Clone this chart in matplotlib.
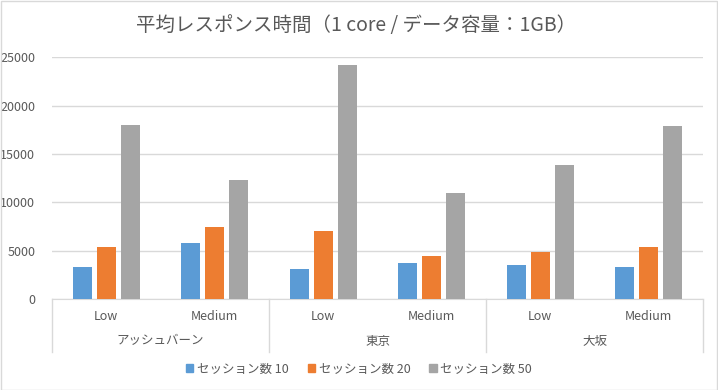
import matplotlib
matplotlib.use("Agg")
import matplotlib.pyplot as plt
from matplotlib.patches import Patch, Rectangle
import numpy as np

plt.rcParams['font.family'] = ['Noto Sans CJK JP', 'DejaVu Sans']

# data
regions = ["アッシュバーン", "東京", "大坂"]
loads = ["Low", "Medium"]
series_names = ["セッション数 10", "セッション数 20", "セッション数 50"]
sess10 = [3310, 5790, 3100, 3720, 3520, 3310]
sess20 = [5380, 7450, 7030, 4450, 4900, 5380]
sess50 = [18000, 12310, 24210, 10970, 13860, 17900]
colors = ["#5B9BD5", "#ED7D31", "#A5A5A5"]
txt = "#595959"
grid = "#D9D9D9"

W, H = 718, 390
fig = plt.figure(figsize=(W / 100, H / 100), dpi=100)
ax = fig.add_axes([52 / W, (H - 299) / H, (703 - 52) / W, (299 - 57.3) / H])

n = len(regions) * len(loads)
x = np.arange(n)
bw = 0.175
step = bw + 0.046
for i, vals in enumerate([sess10, sess20, sess50]):
    ax.bar(x + (i - 1) * step, vals, width=bw, color=colors[i], zorder=3)

ax.set_xlim(-0.5, n - 0.5)
ax.set_ylim(0, 25000)
ax.set_yticks(np.arange(0, 25001, 5000))
ax.yaxis.grid(True, color=grid, linewidth=1, zorder=0)
for s in ["left", "right", "top"]:
    ax.spines[s].set_visible(False)
ax.spines["bottom"].set_color(grid)
ax.tick_params(axis="y", length=0, labelsize=9, colors=txt, pad=12)
ax.set_xticks([])

# multi-level category axis
tr = ax.get_xaxis_transform()
def fy(py):
    # pixel row -> axes fraction (y) below the plot
    return (299 - py) / (299 - 57.3)

for k in range(n):
    ax.text(k, fy(316), loads[k % len(loads)], transform=tr, ha="center",
            va="center", fontsize=9, color=txt)
for g, name in enumerate(regions):
    ax.text(g * 2 + 0.5, fy(341), name, transform=tr, ha="center",
            va="center", fontsize=9, color=txt)
for b in [-0.5, 1.5, 3.5, 5.5]:
    ax.plot([b, b], [0, fy(352)], transform=tr, color=grid, lw=1,
            clip_on=False)

fig.text(356 / W, (H - 25) / H, "平均レスポンス時間（1 core / データ容量：1GB）",
         ha="center", va="center", fontsize=14, color=txt)

handles = [Patch(color=c) for c in colors]
fig.legend(handles, series_names, loc="center", ncol=3, frameon=False,
           bbox_to_anchor=(359 / W, (H - 369) / H), fontsize=9,
           handlelength=0.6, handleheight=0.6, handletextpad=0.3,
           columnspacing=1.5, labelcolor=txt)

fig.patches.append(Rectangle((0.5 / W, 0.5 / H), 1 - 1.5 / W, 1 - 1.5 / H,
                             transform=fig.transFigure, fill=False,
                             edgecolor=grid, lw=1))

fig.savefig("out.png", dpi=100)
